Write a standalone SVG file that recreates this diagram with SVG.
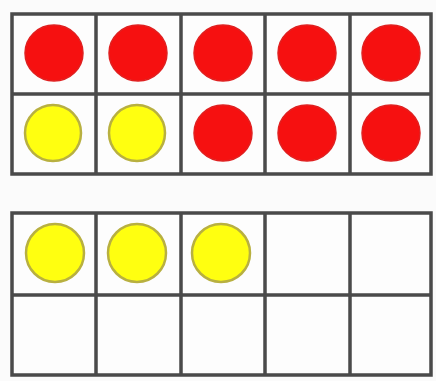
<svg xmlns="http://www.w3.org/2000/svg" width="436" height="381" viewBox="0 0 436 381">
<style>
.grid{fill:none;stroke:#4a4a4a;stroke-width:3.5}
.cell{fill:#fdfdfd}
.red{fill:#f61010;stroke:#e02020;stroke-width:1.5}
.yel{fill:#ffff10;stroke:#b8b040;stroke-width:2.5}
</style>
<rect width="436" height="381" fill="#fbfbfb"/>
<g id="frame1">
<rect class="cell" x="12" y="14" width="419" height="160"/>
<g id="counters1">
<ellipse class="red" cx="54" cy="53" rx="29" ry="28"/>
<ellipse class="red" cx="138" cy="53" rx="29" ry="28"/>
<ellipse class="red" cx="223" cy="53" rx="29" ry="28"/>
<ellipse class="red" cx="307" cy="53" rx="29" ry="28"/>
<ellipse class="red" cx="391" cy="53" rx="29" ry="28"/>
<circle class="yel" cx="53" cy="133" r="28"/>
<circle class="yel" cx="137" cy="133" r="28"/>
<ellipse class="red" cx="223" cy="133" rx="29" ry="28"/>
<ellipse class="red" cx="307" cy="133" rx="29" ry="28"/>
<ellipse class="red" cx="391" cy="133" rx="29" ry="28"/>
</g>
<path class="grid" d="M12 14H431V174H12Z M12 94H431 M96 14V174 M181 14V174 M265 14V174 M350 14V174"/>
</g>
<g id="frame2">
<rect class="cell" x="12" y="213" width="419" height="162"/>
<g id="counters2">
<circle class="yel" cx="55" cy="253" r="29"/>
<circle class="yel" cx="137" cy="253" r="29"/>
<circle class="yel" cx="221" cy="253" r="29"/>
</g>
<path class="grid" d="M12 213H431V375H12Z M12 295H431 M96 213V375 M181 213V375 M265 213V375 M350 213V375"/>
</g>
</svg>
